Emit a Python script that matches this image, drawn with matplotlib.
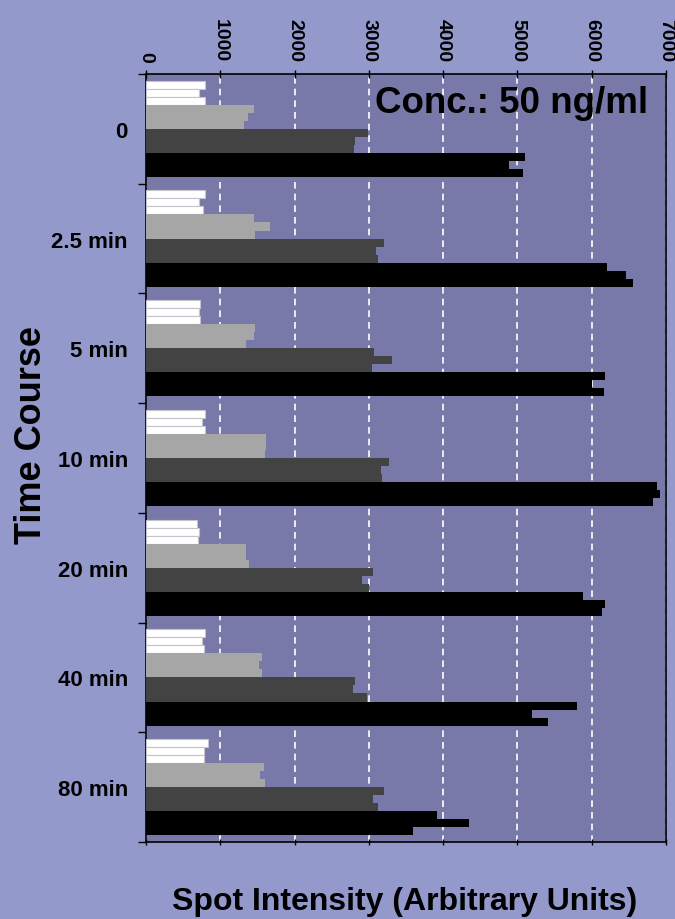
import numpy as np
import matplotlib.pyplot as plt

plt.rcParams['font.family'] = ['Liberation Sans', 'DejaVu Sans']
plt.rcParams['font.weight'] = 'bold'

# time points (top to bottom)
times = ['0', '2.5 min', '5 min', '10 min', '20 min', '40 min', '80 min']

# three replicate spots per series, per time point
white = [[800, 720, 790], [790, 720, 770], [730, 720, 730], [800, 760, 800],
         [680, 710, 695], [790, 750, 775], [830, 775, 775]]
light = [[1450, 1370, 1320], [1455, 1665, 1470], [1465, 1455, 1340], [1615, 1615, 1600],
         [1350, 1350, 1385], [1560, 1515, 1560], [1590, 1535, 1600]]
dark = [[2990, 2820, 2805], [3200, 3100, 3125], [3065, 3315, 3040], [3270, 3170, 3180],
        [3050, 2905, 3000], [2815, 2785, 2975], [3205, 3055, 3125]]
black = [[5100, 4885, 5080], [6205, 6460, 6550], [6175, 6010, 6165], [6875, 6920, 6825],
         [5880, 6175, 6135], [5805, 5195, 5410], [3920, 4345, 3590]]
xticks = [0, 1000, 2000, 3000, 4000, 5000, 6000, 7000]

series = [white, light, dark, black]
colors = ['#ffffff', '#a6a6a6', '#434343', '#000000']
edges = ['#c4c4cc', '#a6a6a6', '#434343', '#000000']
lws = [0.8, 0, 0, 0]

fig = plt.figure(figsize=(6.75, 9.2), dpi=100)
fig.patch.set_facecolor('#9499cc')
ax = fig.add_axes([0.2163, 0.0837, 0.7704, 0.8348])
ax.set_facecolor('#7879a8')

n_groups = len(times)
h = 0.878 / 12
for s in range(4):
    vals = np.array(series[s])
    for r in range(3):
        k = s * 3 + r
        y = np.arange(n_groups) - 0.439 + h * (k + 0.5)
        ax.barh(y, vals[:, r], height=h, color=colors[s], edgecolor=edges[s],
                linewidth=lws[s], zorder=3)

ax.set_xlim(0, 7000)
ax.set_ylim(n_groups - 0.5, -0.5)

# x axis on top
ax.xaxis.tick_top()
ax.set_xticks(xticks)
ax.tick_params(axis='x', top=True, bottom=True, direction='inout', length=6,
               width=1, pad=6, labelsize=14, labelrotation=270)
for t in ax.xaxis.get_major_ticks():
    t.tick1line.set_color('white')
    t.tick1line.set_markersize(4)
    t.label2.set_fontweight('bold')
    t.label2.set_va('bottom')
    t.label2.set_ha('center')
ax.grid(axis='x', color='white', linestyle=(0, (4, 3)), linewidth=1.2, zorder=1)

# y axis: labels at group centres, ticks at group boundaries
ax.set_yticks(np.arange(n_groups))
ax.set_yticklabels(times, fontsize=16, fontweight='bold')
ax.tick_params(axis='y', which='major', length=0, pad=13)
ax.set_yticks(np.arange(n_groups + 1) - 0.5, minor=True)
ax.tick_params(axis='y', which='minor', direction='out', length=6, width=1, color='black')

for sp in ax.spines.values():
    sp.set_color('black')
    sp.set_linewidth(1.2)

ax.text(3080, -0.24, 'Conc.: 50 ng/ml', fontsize=26.5, fontweight='bold',
        va='center', ha='left', zorder=5)

fig.text(0.047, 0.527, 'Time Course', rotation=90, fontsize=26, fontweight='bold',
         ha='center', va='center')
fig.text(0.6, 0.02, 'Spot Intensity (Arbitrary Units)', fontsize=23,
         fontweight='bold', ha='center', va='center')

fig.savefig('out.png', dpi=100, facecolor=fig.get_facecolor())
